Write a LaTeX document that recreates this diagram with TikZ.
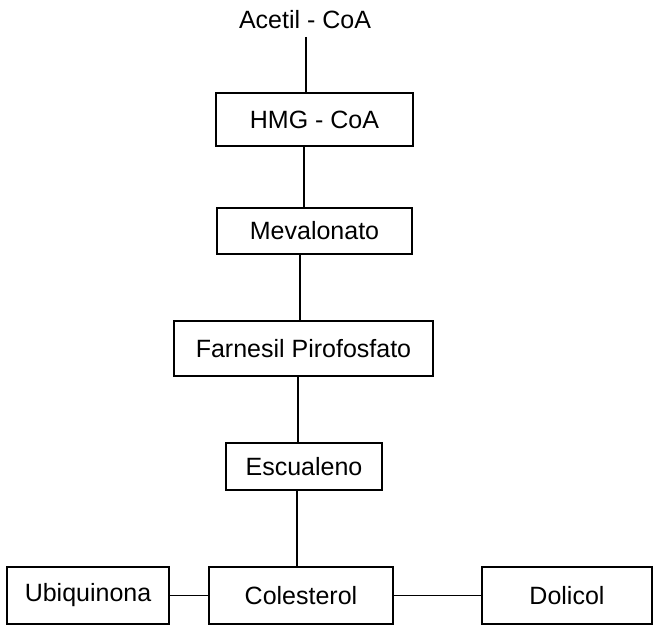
\documentclass[tikz,border=0pt]{standalone}
\usepackage{fontspec}
\setmainfont{Liberation Sans}
\begin{document}
\begin{tikzpicture}[x=1pt,y=-1pt,
  boxnode/.style={draw,line width=1.4pt,inner sep=0pt,font=\fontsize{25}{28}\selectfont},
  conn/.style={line width=1.4pt}]
\useasboundingbox (0,0) rectangle (657,628);
\node[inner sep=0pt,font=\fontsize{25}{28}\selectfont] (acetil) at (305,20) {Acetil - CoA};
\node[boxnode,minimum width=197pt,minimum height=53pt] (hmg) at (314.5,119.5) {HMG - CoA};
\node[boxnode,minimum width=195pt,minimum height=46pt] (mev) at (314.5,231) {Mevalonato};
\node[boxnode,minimum width=259pt,minimum height=55pt] (far) at (303.5,348.5) {Farnesil Pirofosfato};
\node[boxnode,minimum width=156pt,minimum height=47pt] (esc) at (304,466.5) {Escualeno};
\node[boxnode,minimum width=162pt,minimum height=57pt] (ubi) at (88,595.5) {Ubiquinona};
\node[boxnode,minimum width=184pt,minimum height=57pt] (col) at (301,595.5) {Colesterol};
\node[boxnode,minimum width=170pt,minimum height=57pt] (dol) at (567,595.5) {Dolicol};
\coordinate (x1) at (306,0);
\coordinate (x2) at (304,0);
\coordinate (x3) at (300,0);
\coordinate (x4) at (298,0);
\coordinate (x5) at (297,0);
\coordinate (atop) at (306,37);
\draw[conn] (atop) -- (hmg.north -| x1);
\draw[conn] (hmg.south -| x2) -- (mev.north -| x2);
\draw[conn] (mev.south -| x3) -- (far.north -| x3);
\draw[conn] (far.south -| x4) -- (esc.north -| x4);
\draw[conn] (esc.south -| x5) -- (col.north -| x5);
\draw[conn] (ubi.east) -- (col.west);
\draw[conn] (col.east) -- (dol.west);
\end{tikzpicture}
\end{document}
